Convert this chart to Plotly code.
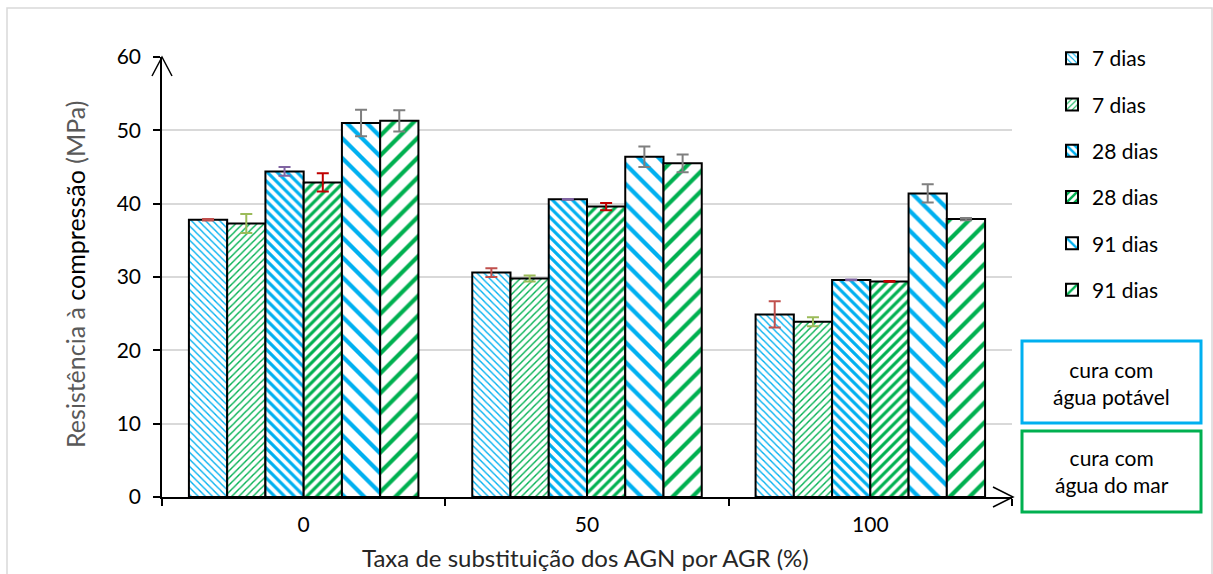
import plotly.graph_objects as go

# Compressive strength (MPa) by replacement rate, curing water and age
categories = ["0", "50", "100"]
series_names = ["7 dias", "7 dias", "28 dias", "28 dias", "91 dias", "91 dias"]

potavel_7 = [37.8, 30.6, 24.9]
mar_7 = [37.3, 29.8, 23.9]
potavel_28 = [44.4, 40.6, 29.6]
mar_28 = [42.9, 39.6, 29.4]
potavel_91 = [51.0, 46.4, 41.4]
mar_91 = [51.3, 45.5, 37.9]

err_potavel_7 = [0.1, 0.6, 1.8]
err_mar_7 = [1.3, 0.4, 0.6]
err_potavel_28 = [0.6, 0.05, 0.05]
err_mar_28 = [1.25, 0.5, 0.05]
err_potavel_91 = [1.8, 1.4, 1.25]
err_mar_91 = [1.45, 1.2, 0.15]

y_ticks = [0, 10, 20, 30, 40, 50, 60]

BLUE = "#00B0F0"
GREEN = "#00B050"
FONT = "Lato"

values = [potavel_7, mar_7, potavel_28, mar_28, potavel_91, mar_91]
errors = [err_potavel_7, err_mar_7, err_potavel_28, err_mar_28, err_potavel_91, err_mar_91]
colors = [BLUE, GREEN, BLUE, GREEN, BLUE, GREEN]
shapes_pat = ["\\", "/", "\\", "/", "\\", "/"]
pat_size = [5, 5, 7, 7, 14, 14]
pat_solid = [0.28, 0.28, 0.45, 0.45, 0.3, 0.3]
err_colors = ["#C0504D", "#9BBB59", "#8064A2", "#C00000", "#7F7F7F", "#7F7F7F"]

fig = go.Figure()
for i in range(6):
    fig.add_trace(go.Bar(
        x=categories, y=values[i], name=series_names[i],
        legendgroup=f"g{i}",
        marker=dict(
            color="white",
            line=dict(color="black", width=2),
            pattern=dict(shape=shapes_pat[i], fgcolor=colors[i], bgcolor="white",
                         fgopacity=1, size=pat_size[i], solidity=pat_solid[i]),
        ),
        error_y=dict(type="data", array=errors[i], visible=True,
                     color=err_colors[i], thickness=2, width=6),
    ))

# plot area in pixels: x 162..1012, y 57..497
W, H = 1213, 574
L, R, T, B = 162, W - 1012, 57, H - 497
PW, PH = W - L - R, H - T - B


def px(x):
    return (x - L) / PW


def py(y):
    return (H - B - y) / PH


shapes = []
# outer chart border
shapes.append(dict(type="rect", xref="paper", yref="paper",
                   x0=px(7), x1=px(1212), y0=py(8), y1=py(590),
                   line=dict(color="#D9D9D9", width=1.5), layer="below"))
# axis arrow heads
shapes.append(dict(type="path", xref="paper", yref="paper",
                   path=f"M {px(152)} {py(76)} L {px(162)} {py(57)} L {px(172)} {py(76)}",
                   line=dict(color="black", width=1.5)))
shapes.append(dict(type="path", xref="paper", yref="paper",
                   path=f"M {px(993)} {py(487)} L {px(1013)} {py(497)} L {px(993)} {py(507)}",
                   line=dict(color="black", width=1.5)))
# curing boxes
shapes.append(dict(type="rect", xref="paper", yref="paper",
                   x0=px(1022), x1=px(1201), y0=py(341), y1=py(423),
                   line=dict(color=BLUE, width=3)))
shapes.append(dict(type="rect", xref="paper", yref="paper",
                   x0=px(1022), x1=px(1201), y0=py(431), y1=py(512),
                   line=dict(color=GREEN, width=3)))

annotations = [
    dict(text="cura com<br>água potável", xref="paper", yref="paper",
         x=px(1111.5), y=py(383), xanchor="center", yanchor="middle",
         showarrow=False, align="center",
         font=dict(family=FONT, size=21, color="#000000")),
    dict(text="cura com<br>água do mar", xref="paper", yref="paper",
         x=px(1111.5), y=py(471), xanchor="center", yanchor="middle",
         showarrow=False, align="center",
         font=dict(family=FONT, size=21, color="#000000")),
    dict(text='Resistência à <span style="color:#000000">compressão</span> (MPa)',
         xref="paper", yref="paper", x=px(75), y=py(275), xanchor="center",
         yanchor="middle", textangle=-90,
         showarrow=False, font=dict(family=FONT, size=25, color="#595959")),
    dict(text="Taxa de substituição dos AGN por AGR (%)",
         xref="paper", yref="paper", x=px(585), y=py(557), xanchor="center",
         yanchor="middle", showarrow=False,
         font=dict(family=FONT, size=24, color="#262626")),
]

fig.update_layout(
    width=W, height=H,
    margin=dict(l=L, r=R, t=T, b=B),
    paper_bgcolor="white", plot_bgcolor="white",
    barmode="group", bargap=0.19, bargroupgap=0,
    font=dict(family=FONT, size=21, color="#000000"),
    showlegend=True,
    legend=dict(x=px(1052), y=py(38), xanchor="left", yanchor="top",
                tracegroupgap=16, font=dict(family=FONT, size=21, color="#000000"),
                bgcolor="rgba(0,0,0,0)"),
    shapes=shapes, annotations=annotations,
    xaxis=dict(type="category", showline=True, linecolor="black", linewidth=1.5,
               ticks="outside", tickson="boundaries", ticklen=7, tickcolor="black",
               tickwidth=1.5, showgrid=False, ticklabelstandoff=8,
               tickfont=dict(family=FONT, size=21, color="#000000")),
    yaxis=dict(range=[0, 60], tickvals=y_ticks, showline=True, linecolor="black",
               linewidth=1.5, ticks="outside", ticklen=7, tickcolor="black",
               tickwidth=1.5, showgrid=True, gridcolor="#D9D9D9", gridwidth=1.5,
               zeroline=False, ticklabelstandoff=8,
               tickfont=dict(family=FONT, size=21, color="#000000")),
)

fig.write_html("out.html")
